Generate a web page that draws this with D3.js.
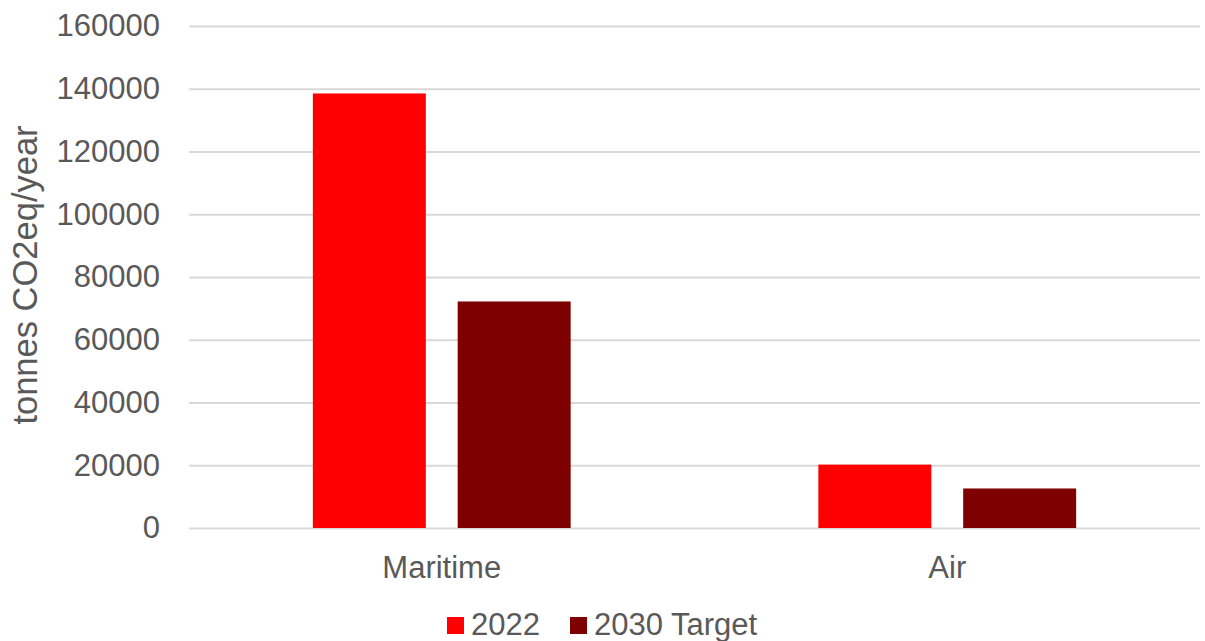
<!DOCTYPE html>
<html>
<head>
<meta charset="utf-8">
<script src="https://cdn.jsdelivr.net/npm/d3@7"></script>
<style>
  body { margin: 0; background: #fff; }
  svg text { font-family: "Liberation Sans", Arial, sans-serif; fill: #595959; }
</style>
</head>
<body>
<svg id="chart" width="1205" height="641"></svg>
<script>
// data
const categories = ["Maritime", "Air"];
const seriesNames = ["2022", "2030 Target"];
const values2022 = [138500, 20200];
const values2030 = [72200, 12600];
const yTicks = [0, 20000, 40000, 60000, 80000, 100000, 120000, 140000, 160000];
const colors = ["#ff0000", "#7f0000"];

const width = 1205;
const height = 641;
const margin = { top: 26, right: 5, bottom: 113, left: 189 };
const chartWidth = width - margin.left - margin.right;
const chartHeight = height - margin.top - margin.bottom;

const svg = d3.select("#chart");
const g = svg.append("g").attr("transform", `translate(${margin.left},${margin.top})`);

const x0 = d3.scaleBand().domain(categories).range([0, chartWidth]).paddingInner(0.49).paddingOuter(0.245);
const x1 = d3.scaleBand().domain(seriesNames).range([0, x0.bandwidth()]).paddingInner(0.22);
const y = d3.scaleLinear().domain([0, 160000]).range([chartHeight, 0]);

// Gridlines
g.append("g")
  .call(d3.axisLeft(y).tickValues(yTicks).tickSize(-chartWidth).tickFormat(""))
  .call((a) => a.select(".domain").remove())
  .selectAll("line")
  .attr("stroke", "#d9d9d9")
  .attr("stroke-width", 2);

// Y tick labels
g.append("g")
  .call(d3.axisLeft(y).tickValues(yTicks).tickSize(0).tickPadding(29).tickFormat(d3.format("d")))
  .call((a) => a.select(".domain").remove())
  .selectAll("text")
  .style("font-size", "31px")
  .style("fill", "#595959");

// Bars
const rows = categories.map((c, i) => ({ category: c, values: [values2022[i], values2030[i]] }));
g.selectAll(".grp")
  .data(rows)
  .join("g")
  .attr("class", "grp")
  .attr("transform", (d) => `translate(${x0(d.category)},0)`)
  .selectAll("rect")
  .data((d) => d.values.map((v, i) => ({ series: seriesNames[i], value: v, i })))
  .join("rect")
  .attr("x", (d) => x1(d.series))
  .attr("y", (d) => y(d.value))
  .attr("width", x1.bandwidth())
  .attr("height", (d) => y(0) - y(d.value))
  .attr("fill", (d) => colors[d.i]);

// X labels
g.append("g")
  .attr("transform", `translate(0,${chartHeight})`)
  .call(d3.axisBottom(x0).tickSize(0).tickPadding(28))
  .call((a) => a.select(".domain").remove())
  .selectAll("text")
  .style("font-size", "31px")
  .style("fill", "#595959");

// Y axis title
svg.append("text")
  .attr("transform", `translate(37,275) rotate(-90)`)
  .attr("text-anchor", "middle")
  .style("font-size", "34.5px")
  .text("tonnes CO2eq/year");

// Legend
const legendX = [447, 570];
const legend = svg.append("g").attr("transform", "translate(0,617)");
seriesNames.forEach((name, i) => {
  legend.append("rect")
    .attr("x", legendX[i])
    .attr("y", 0)
    .attr("width", 17)
    .attr("height", 17)
    .attr("fill", colors[i]);
  legend.append("text")
    .attr("x", legendX[i] + 24)
    .attr("y", 18)
    .style("font-size", "31px")
    .text(name);
});
</script>
</body>
</html>
